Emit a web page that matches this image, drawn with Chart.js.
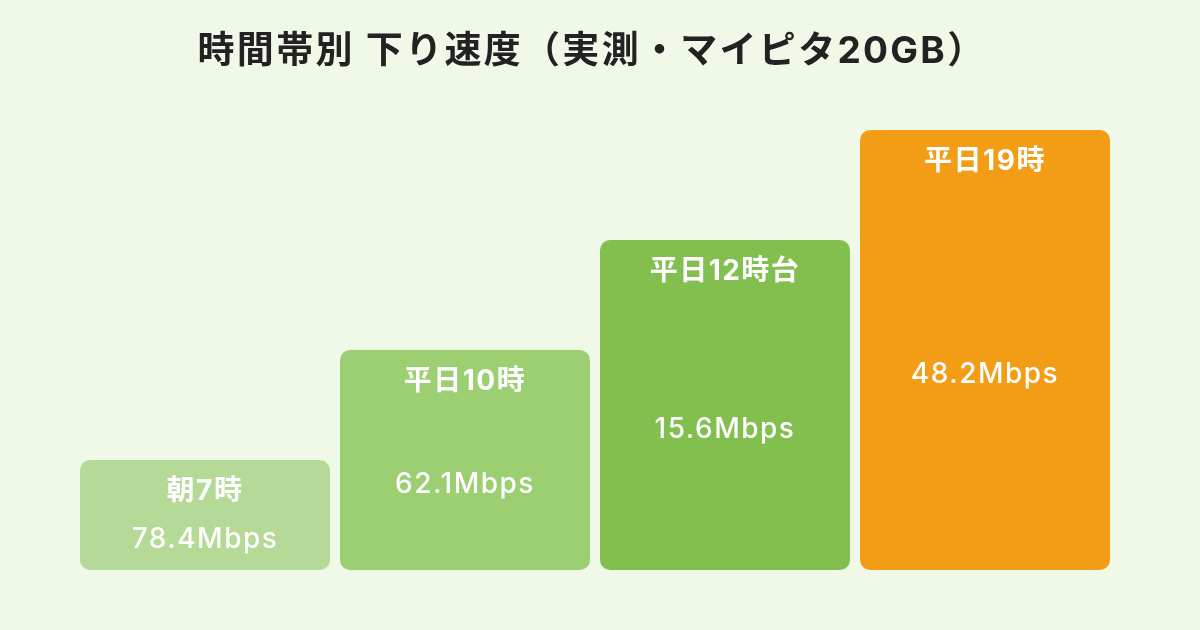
<!DOCTYPE html>
<html lang="ja">
<head>
<meta charset="utf-8">
<script src="https://cdn.jsdelivr.net/npm/chart.js@4.4.1/dist/chart.umd.min.js"></script>
<style>
    html, body { margin: 0; padding: 0; background: #f0f8e8; }
    #wrap { width: 1200px; height: 630px; position: relative; }
</style>
</head>
<body>
<div id="wrap"><canvas id="speed-chart"></canvas></div>
<script>
const TITLE = '時間帯別 下り速度（実測・マイピタ20GB）'
const slots = ['朝7時', '平日10時', '平日12時台', '平日19時']
const speeds = [78.4, 62.1, 15.6, 48.2]
// bars are drawn as steps in the picture, not by speed
const steps = [1, 2, 3, 4]
const colors = ['#b5da98', '#9ccf72', '#82bf4f', '#f39c16']

const FONT = 'Inter, "Noto Sans CJK JP", sans-serif'

const labelPlugin = {
    id: 'barLabels',
    afterDatasetsDraw(chart) {
        const ctx = chart.ctx
        const meta = chart.getDatasetMeta(0)
        ctx.save()
        ctx.fillStyle = '#ffffff'
        ctx.textAlign = 'center'
        ctx.textBaseline = 'middle'
        meta.data.forEach((bar, i) => {
            const mid = (bar.y + bar.base) / 2
            ctx.letterSpacing = '1.5px'
            ctx.font = `bold 28px ${FONT}`
            ctx.fillText(slots[i], bar.x, bar.y + 32)
            ctx.letterSpacing = '1.5px'
            ctx.font = `500 28px ${FONT}`
            ctx.fillText(`${speeds[i]}Mbps`, bar.x, mid + 25)
        })
        ctx.restore()
    },
    afterDraw(chart) {
        const ctx = chart.ctx
        ctx.save()
        ctx.fillStyle = '#222222'
        ctx.textAlign = 'center'
        ctx.textBaseline = 'middle'
        ctx.letterSpacing = '2.3px'
        ctx.font = `bold 37px ${FONT}`
        ctx.fillText(TITLE, 592, 52)
        ctx.restore()
    }
}

new Chart(document.getElementById('speed-chart'), {
    type: 'bar',
    data: {
        labels: slots,
        datasets: [{
            data: steps,
            backgroundColor: colors,
            borderRadius: 10,
            borderSkipped: false,
            barPercentage: 250 / 260,
            categoryPercentage: 1
        }]
    },
    options: {
        responsive: true,
        maintainAspectRatio: false,
        animation: false,
        layout: { padding: { top: 130, bottom: 60, left: 75, right: 85 } },
        plugins: {
            legend: { display: false },
            tooltip: { enabled: false }
        },
        scales: {
            x: { display: false },
            y: { display: false, min: 0, max: 4 }
        }
    },
    plugins: [labelPlugin]
})
</script>
</body>
</html>
